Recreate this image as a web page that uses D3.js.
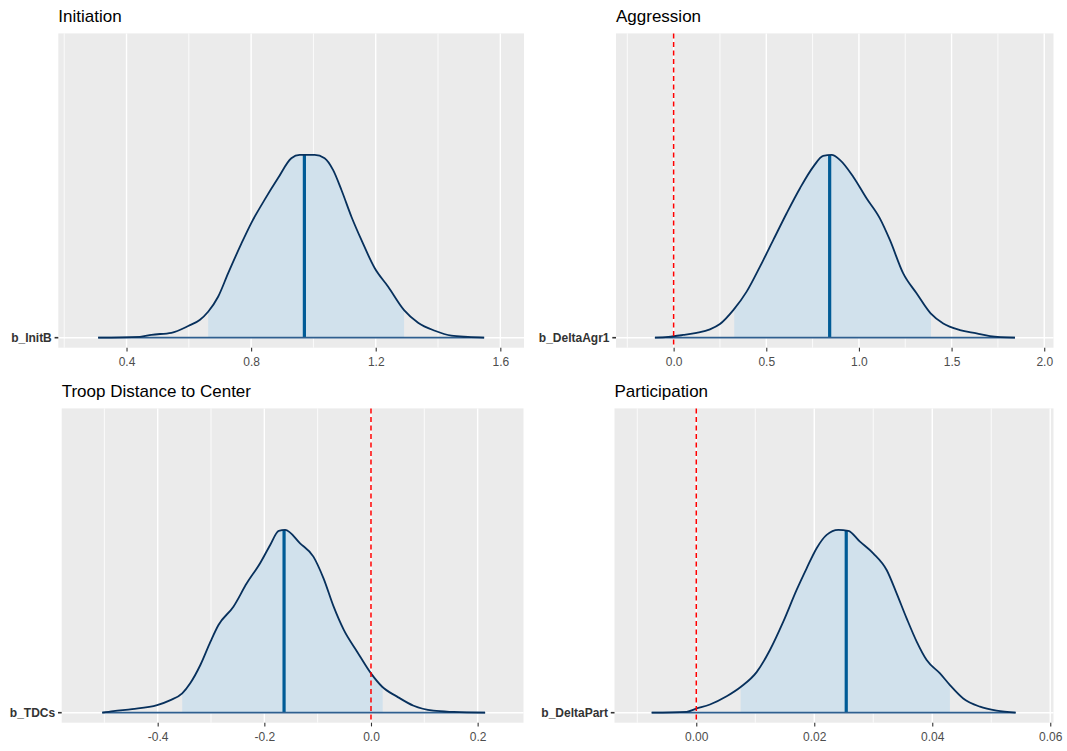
<!DOCTYPE html>
<html>
<head>
<meta charset="utf-8">
<script src="https://cdn.jsdelivr.net/npm/d3@7"></script>
<style>
  body { margin: 0; background: #fff; }
  svg { display: block; }
  text { font-family: "Liberation Sans", Arial, sans-serif; }
</style>
</head>
<body>
<script>
// Posterior densities of four regression coefficients (relative density, peak = 1)
const panelTitles = ["Initiation", "Aggression", "Troop Distance to Center", "Participation"];
const paramNames = ["b_InitB", "b_DeltaAgr1", "b_TDCs", "b_DeltaPart"];

const initiationX = [0.309, 0.443, 0.480, 0.544, 0.598, 0.635, 0.662, 0.694, 0.726, 0.769, 0.800, 0.843, 0.886, 0.929, 0.956, 1.004, 1.036, 1.063, 1.090, 1.122, 1.154, 1.197, 1.240, 1.291, 1.336, 1.390, 1.443, 1.496, 1.548];
const initiationDensity = [0, 0.005, 0.016, 0.027, 0.064, 0.097, 0.142, 0.224, 0.352, 0.516, 0.626, 0.754, 0.872, 0.982, 1.0, 1.0, 0.982, 0.918, 0.808, 0.662, 0.535, 0.380, 0.279, 0.151, 0.082, 0.038, 0.011, 0.004, 0];

const aggressionX = [-0.101, -0.029, 0.052, 0.124, 0.196, 0.250, 0.322, 0.394, 0.466, 0.538, 0.610, 0.682, 0.754, 0.807, 0.853, 0.897, 0.969, 1.041, 1.113, 1.167, 1.239, 1.311, 1.387, 1.455, 1.545, 1.635, 1.707, 1.842];
const aggressionDensity = [0, 0.004, 0.015, 0.027, 0.046, 0.075, 0.151, 0.252, 0.389, 0.535, 0.681, 0.818, 0.936, 0.995, 1.0, 0.973, 0.881, 0.763, 0.653, 0.535, 0.352, 0.243, 0.133, 0.078, 0.042, 0.024, 0.009, 0];

const troopDistX = [-0.504, -0.483, -0.448, -0.401, -0.376, -0.354, -0.339, -0.320, -0.301, -0.286, -0.258, -0.233, -0.208, -0.189, -0.173, -0.161, -0.133, -0.108, -0.089, -0.070, -0.051, -0.026, 0.0, 0.021, 0.049, 0.080, 0.117, 0.155, 0.214];
const troopDistDensity = [0, 0.009, 0.020, 0.042, 0.069, 0.106, 0.161, 0.261, 0.389, 0.480, 0.580, 0.708, 0.818, 0.918, 0.995, 1.0, 0.927, 0.854, 0.735, 0.580, 0.453, 0.334, 0.215, 0.142, 0.088, 0.038, 0.011, 0.004, 0];

const participationX = [-0.00756, -0.00163, 0.0, 0.00232, 0.00515, 0.00758, 0.01023, 0.01249, 0.01475, 0.01701, 0.01871, 0.02040, 0.02210, 0.02407, 0.02576, 0.02775, 0.03000, 0.03227, 0.03396, 0.03566, 0.03736, 0.03905, 0.04131, 0.04300, 0.04525, 0.04808, 0.05091, 0.05413];
const participationDensity = [0, 0.005, 0.022, 0.045, 0.090, 0.142, 0.222, 0.343, 0.498, 0.672, 0.790, 0.900, 0.973, 1.0, 0.995, 0.936, 0.872, 0.781, 0.653, 0.516, 0.389, 0.288, 0.215, 0.151, 0.078, 0.033, 0.011, 0];

// Posterior medians and credible-interval bounds
const medians = [0.971, 0.842, -0.163, 0.02542];
const intervalLow = [0.662, 0.327, -0.354, 0.00752];
const intervalHigh = [1.291, 1.389, 0.022, 0.043];

// Reference line at zero (none for the first panel)
const refLines = [null, 0, 0, 0];

// Axis limits and ticks
const xLimits = [[0.181, 1.676], [-0.311, 2.05], [-0.58, 0.286], [-0.01386, 0.06055]];
const majorTicks = [[0.4, 0.8, 1.2, 1.6], [0, 0.5, 1, 1.5, 2], [-0.4, -0.2, 0, 0.2], [0, 0.02, 0.04, 0.06]];
const minorTicks = [[0.2, 0.6, 1.0, 1.4], [-0.25, 0.25, 0.75, 1.25, 1.75], [-0.5, -0.3, -0.1, 0.1], [-0.01, 0.01, 0.03, 0.05]];
const tickLabels = [["0.4", "0.8", "1.2", "1.6"], ["0.0", "0.5", "1.0", "1.5", "2.0"], ["-0.4", "-0.2", "0.0", "0.2"], ["0.00", "0.02", "0.04", "0.06"]];

const densityX = [initiationX, aggressionX, troopDistX, participationX];
const densityY = [initiationDensity, aggressionDensity, troopDistDensity, participationDensity];

const W = 1067, H = 751;
const svg = d3.select("body").append("svg").attr("width", W).attr("height", H);
svg.append("rect").attr("width", W).attr("height", H).attr("fill", "#fff");
const defs = svg.append("defs");

// Panel boxes in a 2x2 grid
const boxes = [
  { left: 58.3, right: 524, top: 33.4, bottom: 347.7 },
  { left: 616, right: 1053.5, top: 33.4, bottom: 347.7 },
  { left: 61.7, right: 523.5, top: 408.4, bottom: 722.7 },
  { left: 614.5, right: 1053.5, top: 408.4, bottom: 722.7 }
];

const COL = {
  panel: "#EBEBEB",
  fill: "#d1e1ec",
  outline: "#07305c",
  baseline: "#2f5f8f",
  median: "#005b96",
  ref: "#FF0000",
  tick: "#333333",
  tickText: "#4D4D4D"
};

boxes.forEach((b, i) => {
  const x = d3.scaleLinear().domain(xLimits[i]).range([b.left, b.right]);
  const y = d3.scaleLinear().domain([-0.0547, 1.665]).range([b.bottom, b.top]);
  const pts = densityX[i].map((v, k) => [v, densityY[i][k]]);
  const g = svg.append("g");

  // panel background
  g.append("rect")
    .attr("x", b.left).attr("y", b.top)
    .attr("width", b.right - b.left).attr("height", b.bottom - b.top)
    .attr("fill", COL.panel);

  // grid lines
  g.selectAll(".minor").data(minorTicks[i]).join("line")
    .attr("x1", d => x(d)).attr("x2", d => x(d))
    .attr("y1", b.top).attr("y2", b.bottom)
    .attr("stroke", "#fff").attr("stroke-width", 0.8);
  g.selectAll(".major").data(majorTicks[i]).join("line")
    .attr("x1", d => x(d)).attr("x2", d => x(d))
    .attr("y1", b.top).attr("y2", b.bottom)
    .attr("stroke", "#fff").attr("stroke-width", 1.4);
  g.append("line")
    .attr("x1", b.left).attr("x2", b.right)
    .attr("y1", y(0)).attr("y2", y(0))
    .attr("stroke", "#fff").attr("stroke-width", 1.4);

  const area = d3.area().x(d => x(d[0])).y0(y(0)).y1(d => y(d[1])).curve(d3.curveMonotoneX);
  const line = d3.line().x(d => x(d[0])).y(d => y(d[1])).curve(d3.curveMonotoneX);

  // clip to the credible interval
  defs.append("clipPath").attr("id", "interval" + i)
    .append("rect")
    .attr("x", x(intervalLow[i])).attr("y", b.top)
    .attr("width", x(intervalHigh[i]) - x(intervalLow[i]))
    .attr("height", b.bottom - b.top);
  // clip to the region under the density
  defs.append("clipPath").attr("id", "under" + i)
    .append("path").attr("d", area(pts));

  g.append("path")
    .attr("d", area(pts))
    .attr("fill", COL.fill)
    .attr("clip-path", `url(#interval${i})`);

  // median
  g.append("line")
    .attr("x1", x(medians[i])).attr("x2", x(medians[i]))
    .attr("y1", y(0)).attr("y2", b.top)
    .attr("stroke", COL.median).attr("stroke-width", 3.2)
    .attr("clip-path", `url(#under${i})`);

  // baseline under the density
  g.append("line")
    .attr("x1", x(densityX[i][0])).attr("x2", x(densityX[i][densityX[i].length - 1]))
    .attr("y1", y(0)).attr("y2", y(0))
    .attr("stroke", COL.baseline).attr("stroke-width", 1.7);

  // density outline
  g.append("path")
    .attr("d", line(pts))
    .attr("fill", "none")
    .attr("stroke", COL.outline).attr("stroke-width", 1.8)
    .attr("stroke-linejoin", "round");

  // reference line at zero
  if (refLines[i] !== null) {
    g.append("line")
      .attr("x1", x(refLines[i])).attr("x2", x(refLines[i]))
      .attr("y1", b.top).attr("y2", b.bottom)
      .attr("stroke", COL.ref).attr("stroke-width", 1.5)
      .attr("stroke-dasharray", "5,3.5");
  }

  // x axis
  const axis = d3.axisBottom(x)
    .tickValues(majorTicks[i])
    .tickFormat((d, k) => tickLabels[i][k])
    .tickSize(3.7).tickPadding(6.1);
  const ax = svg.append("g").attr("transform", `translate(0,${b.bottom})`).call(axis);
  ax.select(".domain").remove();
  ax.selectAll(".tick line").attr("stroke", COL.tick).attr("stroke-width", 1.1);
  ax.selectAll(".tick text")
    .attr("fill", COL.tickText)
    .style("font-size", "12px")
    .style("font-family", '"Liberation Sans", Arial, sans-serif');

  // y axis: single parameter label
  svg.append("line")
    .attr("x1", b.left - 3.7).attr("x2", b.left)
    .attr("y1", y(0)).attr("y2", y(0))
    .attr("stroke", COL.tick).attr("stroke-width", 1.6);
  svg.append("text")
    .attr("x", b.left - 6.5).attr("y", y(0)).attr("dy", "0.36em")
    .attr("text-anchor", "end")
    .attr("font-size", 12).attr("font-weight", "bold")
    .attr("fill", "#333")
    .text(paramNames[i]);

  // panel title
  svg.append("text")
    .attr("x", b.left).attr("y", b.top - 11)
    .attr("font-size", 17).attr("fill", "#000")
    .text(panelTitles[i]);
});
</script>
</body>
</html>
